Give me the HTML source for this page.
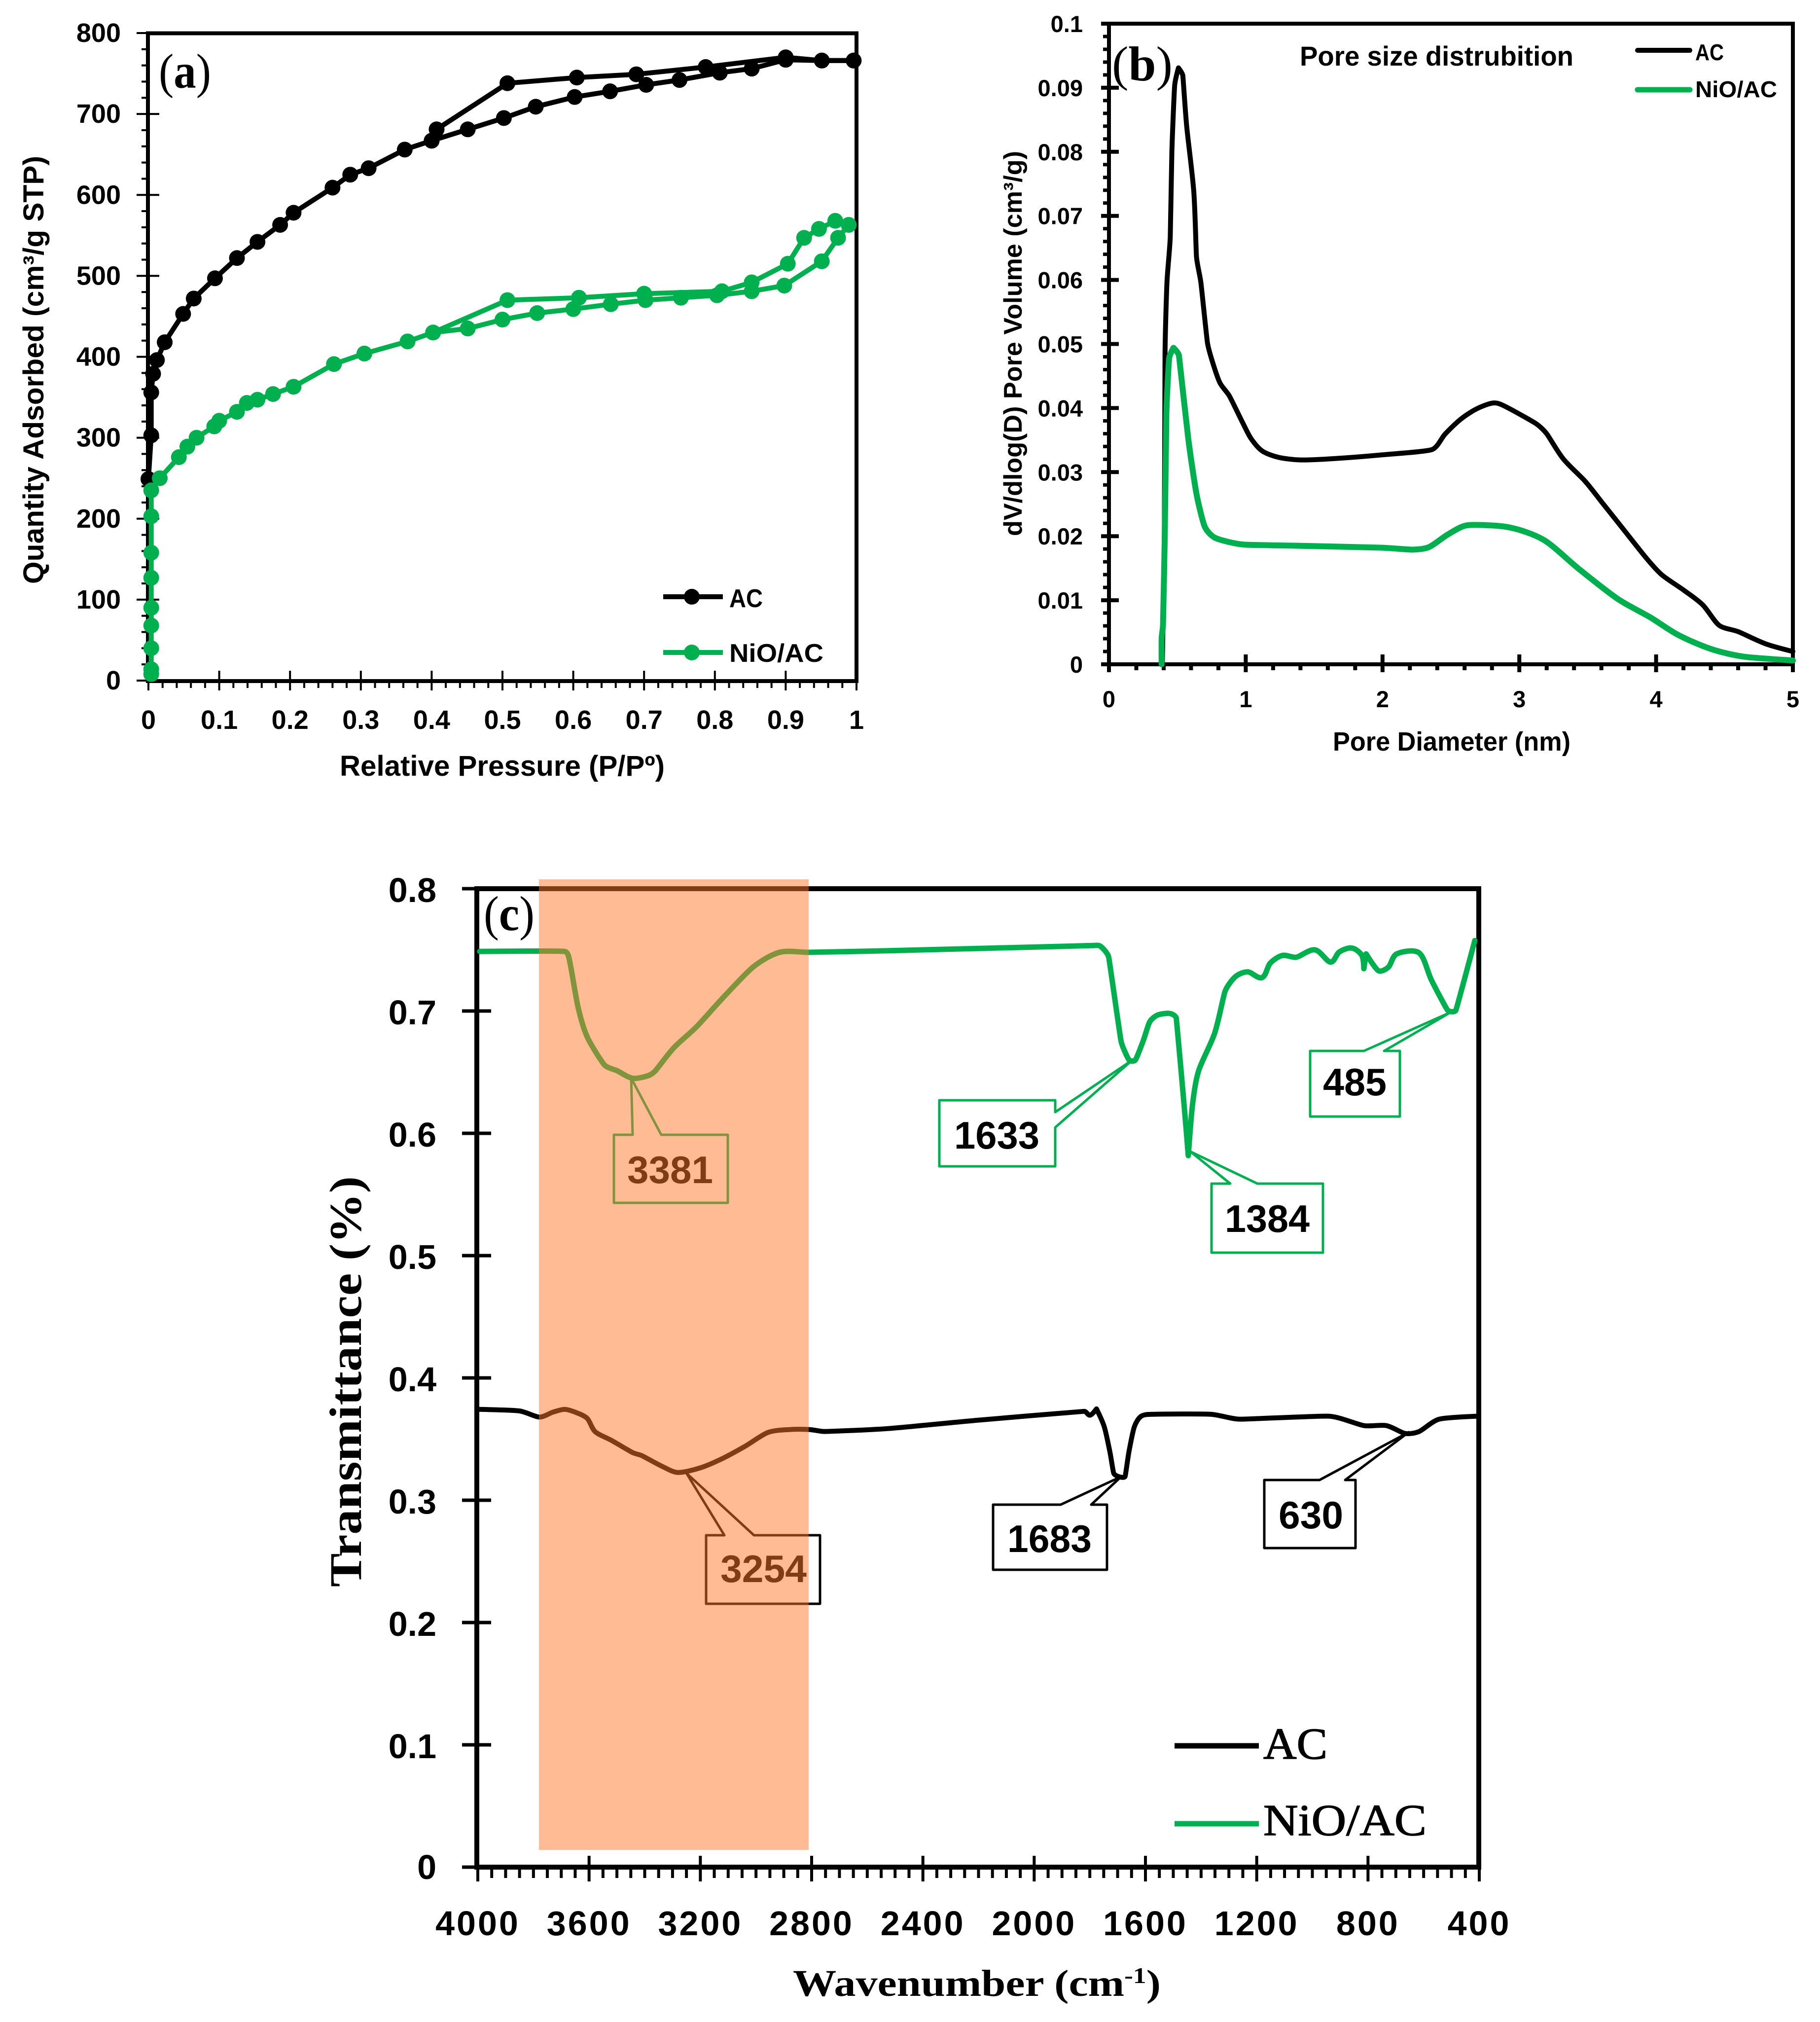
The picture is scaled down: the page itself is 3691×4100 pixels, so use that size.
<!DOCTYPE html>
<html lang="en">
<head>
<meta charset="utf-8">
<title>Adsorption isotherms, pore size distribution and FTIR spectra</title>
<style>
html,body{margin:0;padding:0;background:#fff;}
svg{display:block;}
.sans{font-family:"Liberation Sans",sans-serif;font-weight:bold;fill:#000;}
.serif{font-family:"Liberation Serif",serif;fill:#000;}
</style>
</head>
<body>
<svg id="figure" xmlns="http://www.w3.org/2000/svg" width="3691" height="4100" viewBox="0 0 3691 4100">
  <rect x="0" y="0" width="3691" height="4100" fill="#fff"/>
  <g id="panelA"></g>
  <g id="panelB"></g>
  <g id="panelC"></g>

  <g>
    <text class="serif" x="322" y="178" font-size="100" textLength="106" lengthAdjust="spacingAndGlyphs">(<tspan font-weight="bold">a</tspan>)</text>
    <text class="sans" x="689" y="1573" font-size="58" textLength="659" lengthAdjust="spacingAndGlyphs">Relative Pressure (P/Pº)</text>
    <text class="sans" transform="translate(88,1184) rotate(-90)" x="0" y="0" font-size="58" textLength="868" lengthAdjust="spacingAndGlyphs">Quantity Adsorbed (cm³/g STP)</text>
    <text class="sans" x="1479" y="1231" font-size="52" textLength="68" lengthAdjust="spacingAndGlyphs">AC</text>
    <text class="sans" x="1479" y="1342" font-size="52" textLength="191" lengthAdjust="spacingAndGlyphs">NiO/AC</text>
  </g>

  <g>
    <text class="serif" x="2255" y="163" font-size="100" textLength="123" lengthAdjust="spacingAndGlyphs">(<tspan font-weight="bold">b</tspan>)</text>
    <text class="sans" x="2636" y="133" font-size="56" textLength="555" lengthAdjust="spacingAndGlyphs">Pore size distrubition</text>
    <text class="sans" x="2703" y="1522" font-size="54" textLength="482" lengthAdjust="spacingAndGlyphs">Pore Diameter (nm)</text>
    <text class="sans" transform="translate(2072,1087) rotate(-90)" x="0" y="0" font-size="52" textLength="781" lengthAdjust="spacingAndGlyphs">dV/dlog(D) Pore Volume (cm³/g)</text>
    <text class="sans" x="3438" y="122" font-size="46" textLength="58" lengthAdjust="spacingAndGlyphs">AC</text>
    <text class="sans" x="3438" y="197" font-size="46" textLength="166" lengthAdjust="spacingAndGlyphs">NiO/AC</text>
  </g>

  <g id="panelCTop">
    <g fill="#fff" stroke="#00b050" stroke-width="5" stroke-linejoin="round">
      <path d="M1245,2301 H1283 L1280,2186 L1341,2301 H1476 V2439 H1245 Z"/>
      <path d="M1905,2231 H2140 V2255 L2297,2149 L2140,2286 V2365 H1905 Z"/>
      <path d="M2457,2400 H2495 L2414,2335 L2550,2400 H2683 V2540 H2457 Z"/>
      <path d="M2657,2131 H2766 L2943,2052 L2807,2131 H2839 V2264 H2657 Z"/>
    </g>
    <g fill="#fff" stroke="#000" stroke-width="5" stroke-linejoin="round">
      <path d="M1432,3113 H1469 L1392,2987 L1529,3113 H1663 V3252 H1432 Z"/>
      <path d="M2014,3051 H2151 L2274,2994 L2213,3051 H2245 V3183 H2014 Z"/>
      <path d="M2564,3001 H2676 L2857,2904 L2728,3001 H2749 V3139 H2564 Z"/>
    </g>
    <g class="sans" font-size="78">
      <text class="sans" x="1272" y="2399" textLength="174" lengthAdjust="spacingAndGlyphs">3381</text>
      <text class="sans" x="1935" y="2329" textLength="173" lengthAdjust="spacingAndGlyphs">1633</text>
      <text class="sans" x="2484" y="2498" textLength="172" lengthAdjust="spacingAndGlyphs">1384</text>
      <text class="sans" x="2683" y="2221" textLength="129" lengthAdjust="spacingAndGlyphs">485</text>
      <text class="sans" x="1461" y="3208" textLength="175" lengthAdjust="spacingAndGlyphs">3254</text>
      <text class="sans" x="2043" y="3147" textLength="171" lengthAdjust="spacingAndGlyphs">1683</text>
      <text class="sans" x="2593" y="3099" textLength="131" lengthAdjust="spacingAndGlyphs">630</text>
    </g>
    <text class="serif" x="981" y="1886" font-size="100" textLength="103" lengthAdjust="spacingAndGlyphs">(<tspan font-weight="bold">c</tspan>)</text>
    <text class="serif" font-weight="bold" x="1608" y="4047" font-size="76" textLength="746" lengthAdjust="spacingAndGlyphs">Wavenumber (cm<tspan dy="-26" font-size="46">-1</tspan><tspan dy="26">)</tspan></text>
    <text class="serif" font-weight="bold" transform="translate(732,3218) rotate(-90)" x="0" y="0" font-size="92" textLength="833" lengthAdjust="spacingAndGlyphs">Transmittance (%)</text>
    <text class="serif" x="2562" y="3566" font-size="90" textLength="130" lengthAdjust="spacingAndGlyphs" stroke="#000" stroke-width="1.5">AC</text>
    <text class="serif" x="2562" y="3721" font-size="90" textLength="331" lengthAdjust="spacingAndGlyphs" stroke="#000" stroke-width="1.5">NiO/AC</text>
    <rect x="1093" y="1783" width="547" height="1968" fill="#ff7729" fill-opacity="0.5"/>
  </g>
</svg>
<script>
// ---------- Panel (a) data: relative pressure / quantity adsorbed ----------
const aXTicks = ['0','0.1','0.2','0.3','0.4','0.5','0.6','0.7','0.8','0.9','1'];
const aYTicks = ['0','100','200','300','400','500','600','700','800'];
const acAdsP = [0,0.004,0.004,0.0066,0.012,0.023,0.049,0.064,0.094,0.125,0.154,0.186,0.205,0.26,0.285,0.311,0.362,0.4,0.451,0.502,0.547,0.602,0.652,0.703,0.75,0.807,0.852,0.9,0.951,0.996];
const acAdsV = [249,303,356,379,396,418,453,472,497,522,542,563,578,609,625,633,656,667,681,695,709,721,728,736,742,751,756,767,766,766];
const acDesP = [0.996,0.951,0.9,0.787,0.689,0.605,0.507,0.407,0.4];
const acDesV = [766,766,770,758,749,745,738,681,667];
const nioAdsP = [0.004,0.004,0.004,0.004,0.004,0.004,0.004,0.004,0.004,0.016,0.043,0.055,0.068,0.093,0.1,0.125,0.139,0.154,0.176,0.205,0.262,0.305,0.366,0.402,0.451,0.5,0.549,0.6,0.653,0.702,0.752,0.803,0.852,0.898,0.951,0.974,0.989];
const nioAdsV = [8,14,40,68,90,127,158,203,235,250,276,289,300,314,321,332,343,347,354,363,391,404,419,430,435,446,454,459,465,470,473,476,481,488,518,547,563];
const nioDesP = [0.989,0.97,0.947,0.926,0.903,0.852,0.81,0.7,0.608,0.507,0.402];
const nioDesV = [563,568,558,547,515,492,481,478,473,470,430];

// ---------- Panel (b) data: pore diameter / dV/dlog(D) ----------
const bXTicks = ['0','1','2','3','4','5'];
const bYTicks = ['0','0.01','0.02','0.03','0.04','0.05','0.06','0.07','0.08','0.09','0.1'];
const psdAcD = [0.39,0.405,0.41,0.424,0.448,0.46,0.48,0.508,0.54,0.568,0.62,0.64,0.672,0.72,0.76,0.812,0.88,0.98,1.04,1.12,1.24,1.4,1.64,2,2.36,2.46,2.58,2.7,2.82,2.92,3.12,3.2,3.32,3.48,3.6,3.76,3.92,4.04,4.2,4.34,4.46,4.6,4.8,5];
const psdAcV = [0,0.02,0.0486,0.0596,0.0667,0.0801,0.0903,0.0931,0.0919,0.084,0.0738,0.0636,0.0596,0.0502,0.047,0.0439,0.0419,0.0376,0.0352,0.0333,0.0323,0.0319,0.0321,0.0327,0.0335,0.036,0.0384,0.04,0.0408,0.04,0.0376,0.036,0.0321,0.0286,0.0254,0.0211,0.0168,0.014,0.0116,0.0093,0.0061,0.0051,0.0032,0.002];
const psdNioD = [0.385,0.385,0.395,0.408,0.42,0.44,0.472,0.512,0.58,0.64,0.7,0.78,0.98,1.4,2,2.22,2.34,2.48,2.62,2.92,3.18,3.44,3.72,3.96,4.16,4.4,4.64,5];
const psdNioV = [0,0.004,0.0061,0.02,0.0392,0.0478,0.0494,0.0482,0.0352,0.0266,0.0215,0.0197,0.0187,0.0185,0.0182,0.0179,0.0183,0.0203,0.0217,0.0214,0.0194,0.0148,0.0102,0.0073,0.0046,0.0024,0.0012,0.0006];

// ---------- Panel (c) data: wavenumber / transmittance ----------
const cXTicks = ['4000','3600','3200','2800','2400','2000','1600','1200','800','400'];
const cYTicks = ['0','0.1','0.2','0.3','0.4','0.5','0.6','0.7','0.8'];
const ftirAcW = [3993,3850,3779,3730,3688,3650,3607,3578,3520,3444,3410,3340,3281,3200,3118,3040,2957,2880,2808,2753,2525,2200,1820,1799,1776,1748,1728,1714,1692,1673,1659,1640,1615,1570,1365,1262,940,815,734,667,616,544,410];
const ftirAcT = [0.3743,0.373,0.368,0.372,0.3743,0.372,0.367,0.356,0.349,0.339,0.3364,0.328,0.3227,0.3265,0.3344,0.344,0.3554,0.3578,0.3578,0.3562,0.3586,0.3655,0.3727,0.3695,0.3747,0.36,0.3397,0.322,0.319,0.3195,0.34,0.36,0.3687,0.3703,0.3703,0.3663,0.3687,0.361,0.361,0.3546,0.3562,0.3663,0.3687];
const ftirNioW = [3993,3688,3667,3640,3607,3545,3498,3444,3389,3362,3295,3214,3118,3010,2915,2810,2525,1790,1762,1732,1688,1659,1636,1608,1585,1556,1512,1489,1461,1446,1431,1409,1351,1314,1277,1232,1181,1152,1108,1057,991,935,903,858,822,815,807,763,726,697,616,572,514,484,416];
const ftirNioT = [0.7487,0.7487,0.7374,0.7035,0.679,0.656,0.651,0.645,0.647,0.651,0.67,0.687,0.711,0.736,0.748,0.748,0.7493,0.7535,0.753,0.744,0.6757,0.66,0.66,0.6757,0.691,0.6967,0.698,0.694,0.623,0.5817,0.623,0.651,0.682,0.716,0.728,0.732,0.7273,0.739,0.7454,0.744,0.75,0.74,0.7483,0.7515,0.7454,0.7346,0.7467,0.733,0.736,0.7467,0.7475,0.7253,0.7007,0.7007,0.7576];

const GREEN = '#00b04f';
const SVGNS = 'http://www.w3.org/2000/svg';

function mk(tag, attrs, parent) {
  const e = document.createElementNS(SVGNS, tag);
  for (const k in attrs) e.setAttribute(k, attrs[k]);
  parent.appendChild(e);
  return e;
}
function linePath(xs, ys, fx, fy, color, width, parent) {
  const pts = xs.map((x, i) => fx(x).toFixed(1) + ',' + fy(ys[i]).toFixed(1)).join(' ');
  return mk('polyline', {points: pts, fill: 'none', stroke: color, 'stroke-width': width, 'stroke-linejoin': 'round', 'stroke-linecap': 'round'}, parent);
}
// Smooth curve through the data points; sharp reversals stay as corners and
// handles are limited by the shorter adjacent segment so long runs stay straight.
function smoothPath(xs, ys, fx, fy, color, width, parent) {
  const P = xs.map((x, i) => [fx(x), fy(ys[i])]);
  const N = P.length;
  const K = 0.3;
  const len = i => (i < 0 || i >= N - 1) ? Infinity : Math.hypot(P[i + 1][0] - P[i][0], P[i + 1][1] - P[i][1]);
  const tan = i => {
    if (i === 0 || i === N - 1) return [0, 0];
    const ax = P[i][0] - P[i - 1][0], ay = P[i][1] - P[i - 1][1];
    const bx = P[i + 1][0] - P[i][0], by = P[i + 1][1] - P[i][1];
    if (ax * bx + ay * by < 0) return [0, 0];
    const dx = P[i + 1][0] - P[i - 1][0], dy = P[i + 1][1] - P[i - 1][1], L = Math.hypot(dx, dy) || 1;
    return [dx / L, dy / L];
  };
  let d = 'M' + P[0][0].toFixed(1) + ',' + P[0][1].toFixed(1);
  for (let i = 0; i < N - 1; i++) {
    const t0 = tan(i), t1 = tan(i + 1);
    const h0 = K * Math.min(len(i), len(i - 1));
    const h1 = K * Math.min(len(i), len(i + 1));
    d += ' C' + (P[i][0] + t0[0] * h0).toFixed(1) + ',' + (P[i][1] + t0[1] * h0).toFixed(1) +
         ' ' + (P[i + 1][0] - t1[0] * h1).toFixed(1) + ',' + (P[i + 1][1] - t1[1] * h1).toFixed(1) +
         ' ' + P[i + 1][0].toFixed(1) + ',' + P[i + 1][1].toFixed(1);
  }
  return mk('path', {d: d, fill: 'none', stroke: color, 'stroke-width': width, 'stroke-linejoin': 'round', 'stroke-linecap': 'round'}, parent);
}
function seg(x1, y1, x2, y2, w, parent) {
  return mk('line', {x1: x1, y1: y1, x2: x2, y2: y2, stroke: '#000', 'stroke-width': w}, parent);
}

// ========== Panel A ==========
(function () {
  const g = document.getElementById('panelA');
  const fx = p => 301 + p * 1436;
  const fy = v => 1380 - v * (1313 / 800);

  for (let v = 0; v <= 800; v += 20) {
    const major = v % 100 === 0;
    const t = seg(major ? 277 : 287, fy(v), major ? 323 : 300, fy(v), 4, g);
    
    
  }
  for (let i = 0; i <= 50; i++) {
    const major = i % 5 === 0;
    const t = seg(fx(i / 50), major ? 1360 : 1381, fx(i / 50), major ? 1400 : 1395, 4, g);
    
    
  }
  const frame = mk('rect', {x: 300, y: 67.5, width: 1437, height: 1313.5, fill: 'none', stroke: '#000', 'stroke-width': 8}, g);
  
  

  aYTicks.forEach(s => {
    const t = mk('text', {x: 245, y: fy(+s) + 18, 'text-anchor': 'end', 'font-size': 54, class: 'sans'}, g);
    t.textContent = s;
    
    
  });
  aXTicks.forEach(s => {
    const t = mk('text', {x: fx(+s), y: 1478, 'text-anchor': 'middle', 'font-size': 54, class: 'sans'}, g);
    t.textContent = s;
    
    
  });

  const series = [
    {p: acAdsP, v: acAdsV, c: '#000', n: 'ac-adsorption'},
    {p: acDesP, v: acDesV, c: '#000', n: 'ac-desorption'},
    {p: nioAdsP, v: nioAdsV, c: GREEN, n: 'nio-ac-adsorption'},
    {p: nioDesP, v: nioDesV, c: GREEN, n: 'nio-ac-desorption'}
  ];
  series.forEach(s => {
    const l = linePath(s.p, s.v, fx, fy, s.c, 10, g);
    
    
    s.p.forEach((p, i) => {
      const m = mk('circle', {cx: fx(p), cy: fy(s.v[i]), r: 16, fill: s.c}, g);
      
      
    });
  });

  const l1 = mk('line', {x1: 1345, y1: 1210, x2: 1466, y2: 1210, stroke: '#000', 'stroke-width': 10}, g);
  
  
  const m1 = mk('circle', {cx: 1403, cy: 1210, r: 16, fill: '#000'}, g);
  
  
  const l2 = mk('line', {x1: 1345, y1: 1323, x2: 1466, y2: 1323, stroke: GREEN, 'stroke-width': 10}, g);
  
  
  const m2 = mk('circle', {cx: 1403, cy: 1323, r: 16, fill: GREEN}, g);
  
  
})();

// ========== Panel B ==========
(function () {
  const g = document.getElementById('panelB');
  const fx = d => 2249 + d * 277.4;
  const fy = v => 1347 - v * 12990;

  for (let i = 0; i <= 50; i++) {
    const major = i % 5 === 0;
    const y = fy(i * 0.002);
    const t = seg(major ? 2233 : 2237, y, major ? 2269 : 2249, y, major ? 8 : 7, g);
    
    
  }
  for (let i = 0; i <= 25; i++) {
    const major = i % 5 === 0;
    const x = fx(i * 0.2);
    const t = seg(x, major ? 1327 : 1347, x, major ? 1363 : 1359, 8, g);
    
    
  }
  const frame = mk('rect', {x: 2249, y: 48, width: 1387, height: 1299, fill: 'none', stroke: '#000', 'stroke-width': 8}, g);
  
  

  bYTicks.forEach(s => {
    const t = mk('text', {x: 2196, y: fy(+s) + 17, 'text-anchor': 'end', 'font-size': 47, class: 'sans'}, g);
    t.textContent = s;
    
    
  });
  bXTicks.forEach(s => {
    const t = mk('text', {x: fx(+s), y: 1434, 'text-anchor': 'middle', 'font-size': 47, class: 'sans'}, g);
    t.textContent = s;
    
    
  });

  const ac = smoothPath(psdAcD, psdAcV, fx, fy, '#000', 10, g);
  
  
  const nio = smoothPath(psdNioD, psdNioV, fx, fy, GREEN, 12, g);
  
  

  const l1 = mk('line', {x1: 3321, y1: 102, x2: 3427, y2: 102, stroke: '#000', 'stroke-width': 10, 'stroke-linecap': 'round'}, g);
  
  
  const l2 = mk('line', {x1: 3321, y1: 182, x2: 3427, y2: 182, stroke: GREEN, 'stroke-width': 11, 'stroke-linecap': 'round'}, g);
  
  
})();

// ========== Panel C ==========
(function () {
  const g = document.getElementById('panelC');
  const fx = w => 969 + (4000 - w) / 3600 * 2031;
  const fy = v => 3786 - v * 2480;

  cYTicks.forEach(s => {
    const y = fy(+s);
    const t = seg(937, y, +s === 0 || +s === 0.8 ? 967 : 996, y, 7, g);
    
    
    const lab = mk('text', {x: 885, y: y + 27 - 3 * (+s === 0 ? 1 : 0), 'text-anchor': 'end', 'font-size': 70, class: 'sans'}, g);
    lab.textContent = s;
    
    
  });
  for (let w = 4000; w >= 400; w -= 50) {
    const major = w % 400 === 0;
    const x = fx(w);
    const t = seg(x, major ? 3763 : 3786, x, major ? 3815 : 3808, 6, g);
    
    
  }
  cXTicks.forEach(s => {
    const lab = mk('text', {x: fx(+s), y: 3924, 'text-anchor': 'middle', 'font-size': 70, class: 'sans', 'letter-spacing': 4}, g);
    lab.textContent = s;
    
    
  });

  const frame = mk('rect', {x: 967, y: 1802, width: 2032, height: 1984, fill: 'none', stroke: '#000', 'stroke-width': 10}, g);
  
  

  const ac = smoothPath(ftirAcW, ftirAcT, fx, fy, '#000', 10, g);
  
  
  const nio = smoothPath(ftirNioW, ftirNioT, fx, fy, GREEN, 11, g);
  
  

  const l1 = mk('line', {x1: 2382, y1: 3540, x2: 2553, y2: 3540, stroke: '#000', 'stroke-width': 11}, g);
  
  
  const l2 = mk('line', {x1: 2382, y1: 3698, x2: 2553, y2: 3698, stroke: GREEN, 'stroke-width': 11}, g);
  
  
})();
</script>
</body>
</html>
